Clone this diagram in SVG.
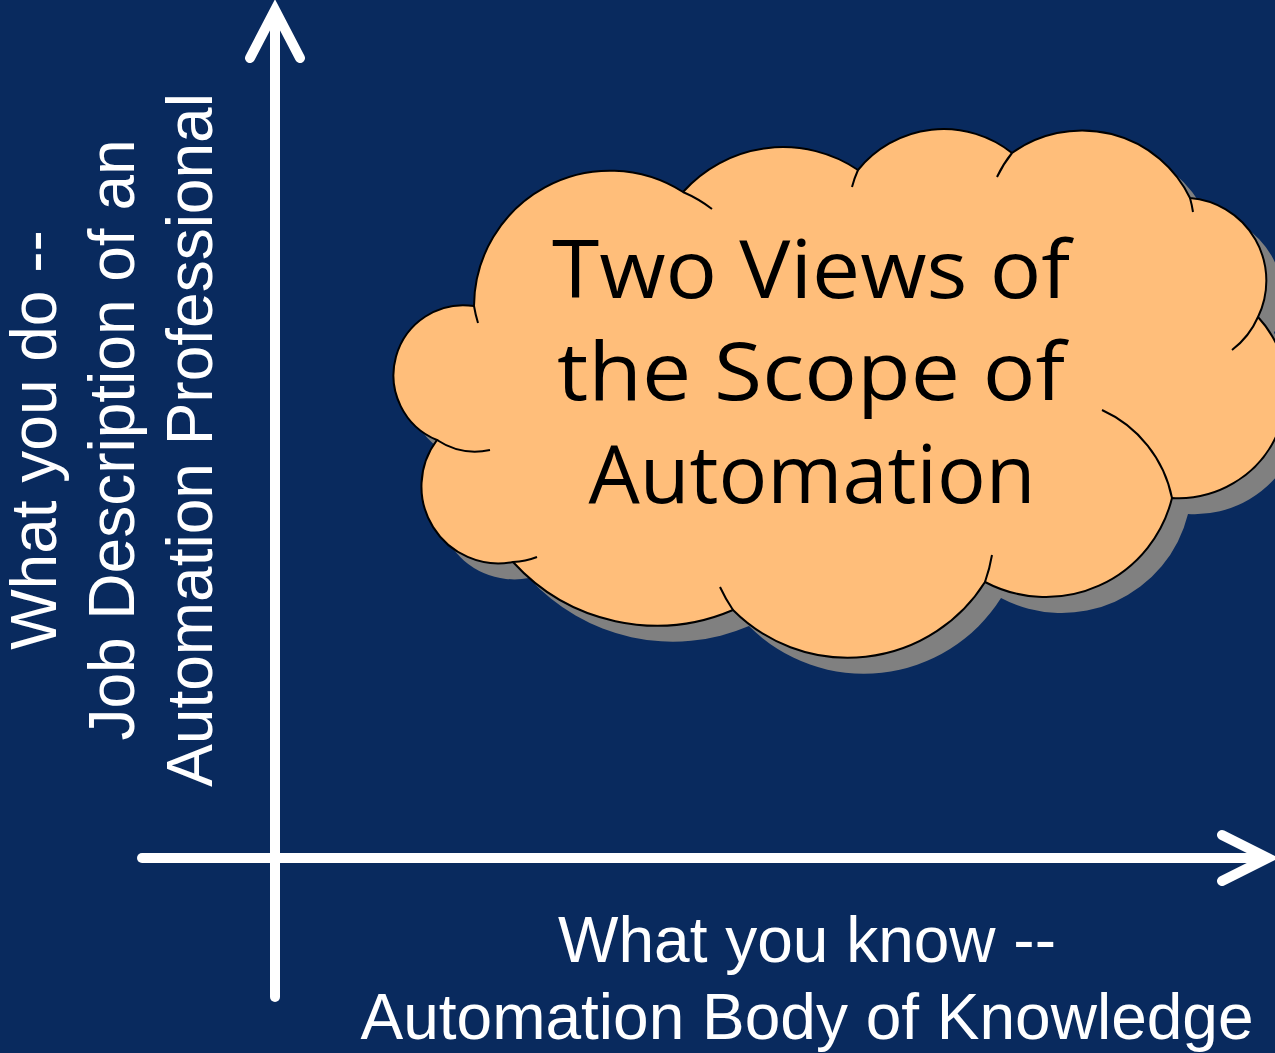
<svg xmlns="http://www.w3.org/2000/svg" width="1275" height="1053" viewBox="0 0 1275 1053">
<style>
.axis{fill:none;stroke:#ffffff;stroke-width:10;stroke-linecap:round;stroke-linejoin:miter;stroke-miterlimit:10}
.axlbl{font-family:"Liberation Sans",Arial,sans-serif;font-size:64px;fill:#ffffff;text-anchor:middle}
.cloud{fill:#FFBE7A;stroke:#000000;stroke-width:2}
.shadow{fill:#808080;stroke:none}
.crease{fill:none;stroke:#000000;stroke-width:2}
.ctext{font-family:"Open Sans","DejaVu Sans",sans-serif;font-size:80px;fill:#000000;text-anchor:middle}
</style>
<defs>
<path id="cloudOutline" d="M474,306 A136,136 0 0 1 683,192 A134,134 0 0 1 858,170 A110,110 0 0 1 1012,153 A120,120 0 0 1 1190,198 A83,83 0 0 1 1258,317 A108,108 0 0 1 1172,498 A130,130 0 0 1 985,582 A162,162 0 0 1 733,610 A194,194 0 0 1 513,562 A77,77 0 0 1 437,440 A70,70 0 0 1 474,306 Z"/>
</defs>
<rect id="background" x="0" y="0" width="1275" height="1053" fill="#092a5e"/>
<g id="connectors">
<path class="axis" d="M275,997 L275,12"/>
<path class="axis" d="M250,58 L275,10 L300,58"/>
<path class="axis" d="M142,858 L1266,858"/>
<path class="axis" d="M1222,835 L1268,858 L1222,881"/>
</g>
<g id="cloud">
<use href="#cloudOutline" class="shadow" transform="translate(16,16)"/>
<use href="#cloudOutline" class="cloud"/>
<path class="crease" d="M474,306 A136,136 0 0 0 478,323"/>
<path class="crease" d="M683,192 A136,136 0 0 1 712,209"/>
<path class="crease" d="M858,170 A110,110 0 0 0 852,187"/>
<path class="crease" d="M1012,153 A120,120 0 0 0 997,177"/>
<path class="crease" d="M1190,198 A120,120 0 0 1 1193,212"/>
<path class="crease" d="M1258,317 A83,83 0 0 1 1232,350"/>
<path class="crease" d="M1172,498 A123,123 0 0 0 1102,410"/>
<path class="crease" d="M985,582 A162,162 0 0 0 992,555"/>
<path class="crease" d="M733,610 A162,162 0 0 1 720,587"/>
<path class="crease" d="M513,562 A77,77 0 0 0 537,557"/>
<path class="crease" d="M437,440 A70,70 0 0 0 490,450"/>
<text class="ctext" x="811" y="298" textLength="518" lengthAdjust="spacingAndGlyphs">Two Views of</text>
<text class="ctext" x="811" y="400" textLength="508" lengthAdjust="spacingAndGlyphs">the Scope of</text>
<text class="ctext" x="812" y="503" textLength="447" lengthAdjust="spacingAndGlyphs">Automation</text>
</g>
<g id="y-axis-label" transform="rotate(-90)">
<text class="axlbl" x="-440" y="56">What you do --</text>
<text class="axlbl" x="-440" y="134">Job Description of an</text>
<text class="axlbl" x="-440" y="212">Automation Professional</text>
</g>
<g id="x-axis-label">
<text class="axlbl" x="807" y="962">What you know --</text>
<text class="axlbl" x="807" y="1039">Automation Body of Knowledge</text>
</g>
</svg>
